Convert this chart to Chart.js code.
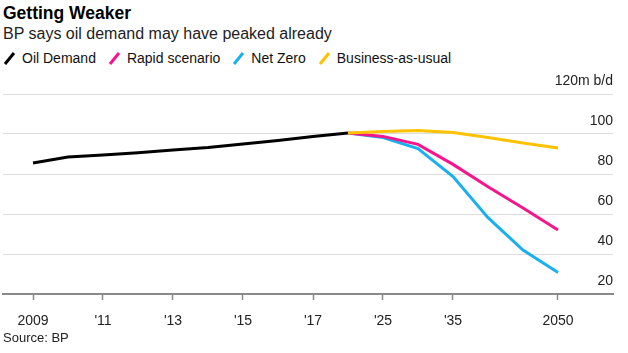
<!DOCTYPE html>
<html>
<head>
<meta charset="utf-8">
<script src="https://cdn.jsdelivr.net/npm/chart.js@4"></script>
<style>
  body { margin: 0; background: #fff; font-family: "Liberation Sans", Arial, sans-serif; }
  #wrap { position: relative; width: 628px; height: 353px; overflow: hidden; }
  #title { position: absolute; left: 3px; top: 3px; font-size: 17.5px; font-weight: bold; color: #000; }
  #subtitle { position: absolute; left: 3px; top: 25px; font-size: 16px; color: #222; }
  #legend { position: absolute; left: 3px; top: 50px; font-size: 14px; color: #111; display: flex; }
  #legend .item { display: flex; align-items: center; margin-right: 12px; }
  #legend svg { margin-right: 6px; }
  #source { position: absolute; left: 3px; top: 330px; font-size: 13px; color: #222; }
  #chartBox { position: absolute; left: 0; top: 72px; width: 628px; height: 260px; }
</style>
</head>
<body>
<div id="wrap">
  <div id="title">Getting Weaker</div>
  <div id="subtitle">BP says oil demand may have peaked already</div>
  <div id="legend"></div>
  <div id="chartBox"><canvas id="lineChart" width="628" height="260"></canvas></div>
  <div id="source">Source: BP</div>
</div>
<script>
const years = ['2009', '2010', '2011', '2012', '2013', '2014', '2015', '2016', '2017', '2018',
               '2025', '2030', '2035', '2040', '2045', '2050'];
const tickYears = ['2009', '2011', '2013', '2015', '2017', '2025', '2035', '2050'];
const tickLabels = ['2009', "'11", "'13", "'15", "'17", "'25", "'35", '2050'];

const oilDemand = [85.5, 88.5, 89.5, 90.6, 92, 93.2, 95, 96.8, 98.8, 100.5,
                   null, null, null, null, null, null];
const rapid = [null, null, null, null, null, null, null, null, null, 100.5,
               98.8, 94.8, 84.8, 73.6, 63, 52];
const netZero = [null, null, null, null, null, null, null, null, null, 100.5,
                 98.2, 92.7, 78.7, 58.2, 42, 30.7];
const businessAsUsual = [null, null, null, null, null, null, null, null, null, 100.5,
                         101.3, 101.8, 100.7, 98.2, 95.5, 93];

const seriesNames = ['Oil Demand', 'Rapid scenario', 'Net Zero', 'Business-as-usual'];
const seriesColors = ['#000000', '#f5168c', '#1ab0ef', '#ffc200'];
const seriesData = [oilDemand, rapid, netZero, businessAsUsual];

// html legend with slanted strokes
const legend = document.getElementById('legend');
seriesNames.forEach((name, i) => {
    const item = document.createElement('div');
    item.className = 'item';
    item.innerHTML = `<svg width="13" height="14"><line x1="2" y1="13" x2="11" y2="2" stroke="${seriesColors[i]}" stroke-width="3"/></svg><span>${name}</span>`;
    legend.appendChild(item);
});

function toPoints(values) {
    return values.map((v, i) => ({ x: i, y: v }));
}

// draw order: first dataset on top
const drawOrder = [3, 1, 2, 0];
const datasets = drawOrder.map(i => ({
    label: seriesNames[i],
    data: toPoints(seriesData[i]),
    borderColor: seriesColors[i],
    borderWidth: 3,
    pointRadius: 0,
    tension: 0,
    spanGaps: false
}));

const ctx = document.getElementById('lineChart').getContext('2d');
const lineChart = new Chart(ctx, {
    type: 'line',
    data: { datasets: datasets },
    options: {
        responsive: false,
        animation: false,
        layout: { padding: { left: 3, right: 15, top: 22, bottom: 0 } },
        plugins: { legend: { display: false }, tooltip: { enabled: false } },
        scales: {
            x: {
                type: 'linear',
                min: -30 / 35,
                max: 15 + 55 / 35,
                afterBuildTicks: (scale) => {
                    scale.ticks = tickYears.map(y => ({ value: years.indexOf(y) }));
                },
                afterFit: (scale) => { scale.height = 38; },
                grid: {
                    drawOnChartArea: false,
                    drawTicks: true,
                    tickLength: 6,
                    color: '#8a8a8a',
                    tickWidth: 1.5
                },
                border: { color: '#8a8a8a', width: 2 },
                ticks: {
                    autoSkip: false,
                    maxRotation: 0,
                    padding: 13,
                    color: '#222',
                    font: { family: '"Liberation Sans", Arial, sans-serif', size: 14 },
                    callback: (value) => {
                        const idx = tickYears.indexOf(years[value]);
                        return idx >= 0 ? tickLabels[idx] : '';
                    }
                }
            },
            y: {
                position: 'right',
                min: 20,
                max: 120,
                afterFit: (scale) => { scale.width = 0; },
                grid: { color: '#dddddd', lineWidth: 1, drawTicks: false },
                border: { display: false },
                ticks: {
                    stepSize: 20,
                    mirror: true,
                    padding: 0,
                    labelOffset: -13,
                    color: '#222',
                    font: { family: '"Liberation Sans", Arial, sans-serif', size: 14 },
                    callback: (value) => value === 120 ? '120m b/d' : value
                }
            }
        }
    }
});
</script>
</body>
</html>
